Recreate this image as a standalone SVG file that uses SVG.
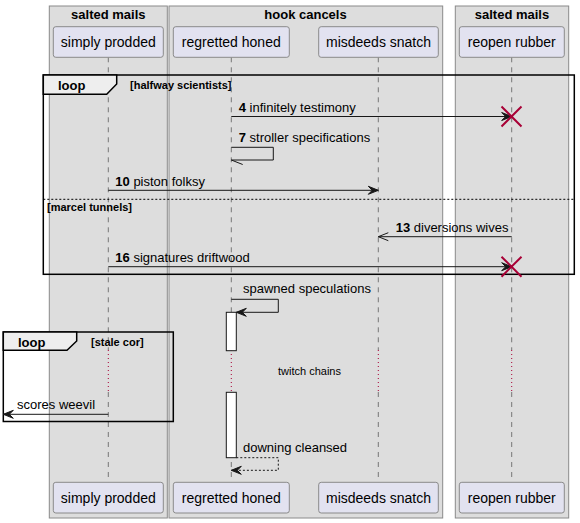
<svg xmlns="http://www.w3.org/2000/svg" width="580" height="523" viewBox="0 0 580 523">
<style>
.grp{fill:#DDDDDD;stroke:#8a8a8a;stroke-width:1}
.gt{font-family:"Liberation Sans",Arial,sans-serif;font-size:13px;font-weight:bold;fill:#000;text-anchor:middle}
.pb{fill:#E2E2F0;stroke:#8a8a8a;stroke-width:1}
.pt{font-family:"Liberation Sans",Arial,sans-serif;font-size:14px;fill:#000;text-anchor:middle}
.ll{stroke:#777;stroke-width:1;stroke-dasharray:5,5;fill:none}
.dl{stroke:#A80036;stroke-width:1;stroke-dasharray:1,3;fill:none}
.fr{fill:none;stroke:#000;stroke-width:1.5}
.tab{fill:#EEEEEE;stroke:#000;stroke-width:1.5}
.ft{font-family:"Liberation Sans",Arial,sans-serif;font-size:13px;font-weight:bold;fill:#000}
.gd{font-family:"Liberation Sans",Arial,sans-serif;font-size:11px;font-weight:bold;fill:#000}
.m{stroke:#181818;stroke-width:1;fill:none}
.md{stroke:#181818;stroke-width:1;fill:none;stroke-dasharray:2,2}
.ah{fill:#181818;stroke:#181818;stroke-width:1}
.mt{font-family:"Liberation Sans",Arial,sans-serif;font-size:13px;fill:#000}
.dt{font-family:"Liberation Sans",Arial,sans-serif;font-size:11px;fill:#000;text-anchor:middle}
.x{stroke:#A80036;stroke-width:2}
.act{fill:#FFFFFF;stroke:#181818;stroke-width:1}
</style>
<g id="groups">
<rect class="grp" x="49.3" y="6" width="118" height="512"/>
<text class="gt" x="108.3" y="18.5">salted mails</text>
<rect class="grp" x="169" y="6" width="273.7" height="512"/>
<text class="gt" x="305.5" y="18.5">hook cancels</text>
<rect class="grp" x="455.3" y="6" width="113.4" height="512"/>
<text class="gt" x="512" y="18.5">salted mails</text>
</g>
<g id="lifelines">
<path class="ll" d="M108.3,57.3V350M108.3,392V482.3"/>
<path class="dl" d="M108.3,350V392"/>
<path class="ll" d="M231.3,57.3V350M231.3,392V482.3"/>
<path class="dl" d="M231.3,350V392"/>
<path class="ll" d="M378.3,57.3V350M378.3,392V482.3"/>
<path class="dl" d="M378.3,350V392"/>
<path class="ll" d="M511.7,57.3V350M511.7,392V482.3"/>
<path class="dl" d="M511.7,350V392"/>
</g>
<g id="p-simply-prodded">
<rect class="pb" x="53.3" y="26.7" width="110" height="30.6" rx="2.5"/>
<text class="pt" x="108.3" y="47">simply prodded</text>
<rect class="pb" x="53.3" y="482.3" width="110" height="30.7" rx="2.5"/>
<text class="pt" x="108.3" y="503.3">simply prodded</text>
</g>
<g id="p-regretted-honed">
<rect class="pb" x="173.3" y="26.7" width="116" height="30.6" rx="2.5"/>
<text class="pt" x="231.3" y="47">regretted honed</text>
<rect class="pb" x="173.3" y="482.3" width="116" height="30.7" rx="2.5"/>
<text class="pt" x="231.3" y="503.3">regretted honed</text>
</g>
<g id="p-misdeeds-snatch">
<rect class="pb" x="318.7" y="26.7" width="119.6" height="30.6" rx="2.5"/>
<text class="pt" x="378.5" y="47">misdeeds snatch</text>
<rect class="pb" x="318.7" y="482.3" width="119.6" height="30.7" rx="2.5"/>
<text class="pt" x="378.5" y="503.3">misdeeds snatch</text>
</g>
<g id="p-reopen-rubber">
<rect class="pb" x="459.3" y="26.7" width="105" height="30.6" rx="2.5"/>
<text class="pt" x="511.8" y="47">reopen rubber</text>
<rect class="pb" x="459.3" y="482.3" width="105" height="30.7" rx="2.5"/>
<text class="pt" x="511.8" y="503.3">reopen rubber</text>
</g>
<g id="activation">
<rect class="act" x="226.3" y="312.3" width="10" height="38.4"/>
<rect class="act" x="226.3" y="392.3" width="10" height="65.4"/>
</g>
<g id="loop1">
<rect class="fr" x="43.3" y="75" width="531" height="199.3"/>
<path class="tab" d="M43.3,75H116.7V84L106.7,94.3H43.3Z"/>
<text class="ft" x="58" y="90">loop</text>
<text class="gd" x="130" y="89">[halfway scientists]</text>
<path d="M43.3,199.3H574.3" stroke="#000" stroke-width="1" stroke-dasharray="2,2"/>
<text class="gd" x="47" y="211">[marcel tunnels]</text>
</g>
<g id="loop2">
<rect class="fr" x="3.3" y="332" width="170" height="89.5"/>
<path class="tab" d="M3.3,332H76.7V341L67,350.3H3.3Z"/>
<text class="ft" x="18" y="346.7">loop</text>
<text class="gd" x="91" y="345.7">[stale cor]</text>
</g>
<g id="connectors">
<path class="m" d="M231.3,116.5H511.7"/>
<polygon class="ah" points="501.7,112.5 511.7,116.5 501.7,120.5 505.7,116.5"/>
<path class="x" d="M501.5,106.5L521.5,126.5M521.5,106.5L501.5,126.5"/>
<text class="mt" x="238.7" y="111.5"><tspan font-weight="bold">4</tspan> infinitely testimony</text>

<path class="m" d="M231.3,147.3H273.3V160H231.3L242.7,164.5"/>
<text class="mt" x="238.7" y="142"><tspan font-weight="bold">7</tspan> stroller specifications</text>

<path class="m" d="M108.3,190.3H378.3"/>
<polygon class="ah" points="368.3,186.3 378.3,190.3 368.3,194.3 372.3,190.3"/>
<text class="mt" x="115.3" y="186"><tspan font-weight="bold">10</tspan> piston folksy</text>

<path class="m" d="M511.7,236.7H378.3M388.3,232.7L378.3,236.7L388.3,240.7"/>
<text class="mt" x="395.7" y="231.7"><tspan font-weight="bold">13</tspan> diversions wives</text>

<path class="m" d="M108.3,266.7H511.7"/>
<polygon class="ah" points="501.7,262.7 511.7,266.7 501.7,270.7 505.7,266.7"/>
<path class="x" d="M501.5,256.7L521.5,276.7M521.5,256.7L501.5,276.7"/>
<text class="mt" x="115.3" y="261.7"><tspan font-weight="bold">16</tspan> signatures driftwood</text>

<path class="m" d="M231.3,299.3H278.3V312.3H236.3"/>
<polygon class="ah" points="246.3,308.3 236.3,312.3 246.3,316.3 242.3,312.3"/>
<text class="mt" x="243" y="293.3">spawned speculations</text>

<text class="dt" x="309.5" y="375.3">twitch chains</text>

<path class="m" d="M108.3,414.3H3.3"/>
<polygon class="ah" points="13.3,410.3 3.3,414.3 13.3,418.3 9.3,414.3"/>
<text class="mt" x="17" y="409.3">scores weevil</text>

<path class="md" d="M236.3,457.7H278.3V470.3H231.3"/>
<polygon class="ah" points="241.3,466.3 231.3,470.3 241.3,474.3 237.3,470.3"/>
<text class="mt" x="243" y="451.7">downing cleansed</text>
</g>
</svg>
